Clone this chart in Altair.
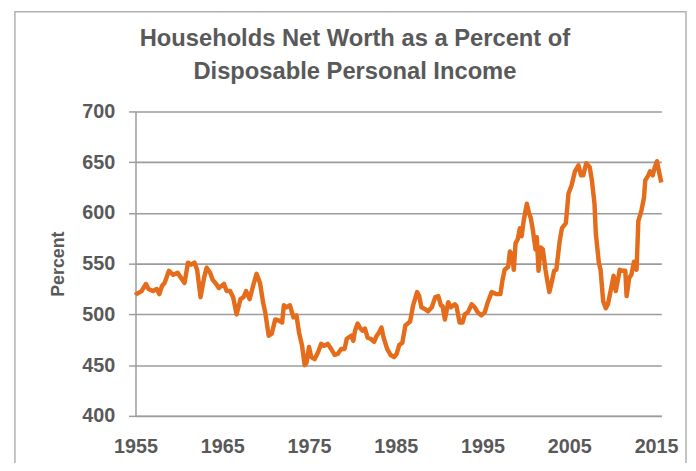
import altair as alt
import pandas as pd

years = [
    1955.0, 1955.1, 1955.7, 1956.2, 1956.5, 1957.0, 1957.45, 1957.75, 1958.05, 1958.35,
    1958.85, 1959.35, 1959.85, 1960.25, 1960.65, 1961.05, 1961.4, 1961.8, 1962.1, 1962.5,
    1962.9, 1963.2, 1963.6, 1963.9, 1964.3, 1964.6, 1965.2, 1965.5, 1965.9, 1966.25,
    1966.65, 1967.1, 1967.45, 1967.75, 1968.15, 1968.55, 1968.95, 1969.35, 1969.7, 1969.95,
    1970.35, 1970.7, 1971.1, 1971.5, 1971.9, 1972.1, 1972.4, 1972.8, 1973.2, 1973.55,
    1973.85, 1974.2, 1974.5, 1974.7, 1975.0, 1975.25, 1975.65, 1976.05, 1976.4, 1976.75,
    1977.15, 1977.55, 1977.95, 1978.3, 1978.7, 1979.1, 1979.35, 1979.85, 1980.1, 1980.3,
    1980.6, 1980.85, 1981.15, 1981.45, 1981.75, 1982.1, 1982.5, 1982.8, 1983.05, 1983.35,
    1983.6, 1984.0, 1984.4, 1984.8, 1985.1, 1985.4, 1985.75, 1986.1, 1986.65, 1987.0,
    1987.45, 1987.7, 1987.95, 1988.4, 1988.7, 1989.15, 1989.55, 1989.9, 1990.2, 1990.4,
    1990.65, 1991.05, 1991.35, 1991.8, 1992.0, 1992.35, 1992.7, 1992.95, 1993.3, 1993.75,
    1994.1, 1994.45, 1994.85, 1995.25, 1995.6, 1996.05, 1996.55, 1997.05, 1997.3, 1997.55,
    1997.95, 1998.15, 1998.4, 1998.6, 1998.8, 1999.05, 1999.3, 1999.5, 1999.75, 2000.1,
    2000.35, 2000.55, 2000.8, 2001.1, 2001.25, 2001.45, 2001.7, 2001.95, 2002.25, 2002.5,
    2002.7, 2002.95, 2003.25, 2003.5, 2003.9, 2004.15, 2004.6, 2004.9, 2005.25, 2005.65,
    2006.05, 2006.35, 2006.6, 2006.95, 2007.35, 2007.6, 2007.9, 2008.05, 2008.4, 2008.6,
    2008.9, 2009.2, 2009.45, 2009.8, 2010.1, 2010.35, 2010.6, 2010.8, 2011.15, 2011.45,
    2011.6, 2011.9, 2012.15, 2012.45, 2012.75, 2012.95, 2013.3, 2013.6, 2013.75, 2014.1,
    2014.3, 2014.6, 2014.85, 2015.1, 2015.3, 2015.6,
]
values = [
    519, 520, 523, 530, 525, 523, 525, 520, 528, 531,
    543, 539, 541, 536, 531, 551, 549, 551, 544, 517,
    536, 546, 541, 534, 530, 526, 530, 523, 523, 517,
    500, 515, 517, 523, 515, 528, 540, 531, 512, 502,
    479, 481, 495, 494, 492, 509, 507, 509, 497, 499,
    482, 469, 450, 452, 468, 458, 456, 463, 471, 469,
    471, 466, 460, 461, 466, 466, 476, 479, 474, 484,
    491, 487, 484, 486, 477, 476, 473, 479, 482, 487,
    477, 466, 460, 458, 461, 470, 472, 489, 493, 509,
    522, 518, 507, 505, 503, 507, 517, 518, 509, 508,
    495, 512, 507, 510, 508, 492, 492, 500, 502, 510,
    507, 502, 499, 502, 512, 522, 520, 520, 534, 544,
    547, 562, 559, 544, 570, 574, 585, 577, 593, 609,
    600, 595, 583, 564, 576, 543, 566, 564, 544, 531,
    522, 531, 543, 544, 573, 585, 590, 619, 627, 641,
    647, 637, 637, 649, 645, 632, 609, 580, 551, 544,
    513, 506, 510, 525, 538, 523, 534, 544, 543, 543,
    518, 536, 539, 552, 544, 592, 602, 615, 632, 637,
    641, 637, 645, 651, 642, 630,
]

x_ticks = [1955, 1965, 1975, 1985, 1995, 2005, 2015]
y_ticks = [400, 450, 500, 550, 600, 650, 700]
title_lines = ["Households Net Worth as a Percent of", "Disposable Personal Income"]

df = pd.DataFrame({"year": years, "value": values})

FONT = "Liberation Sans"
GRAY_TXT = "#595959"
GRID = "#9c9c9c"

line = alt.Chart(df).mark_line(color="#E46C1A", strokeWidth=4.5, strokeJoin="round").encode(
    x=alt.X(
        "year:Q",
        scale=alt.Scale(domain=[1955, 2015.6], nice=False, zero=False),
        axis=alt.Axis(
            values=x_ticks, format="d", grid=False, ticks=False,
            domainColor=GRID, domainWidth=1.5,
            labelFont=FONT, labelFontSize=20, labelFontWeight="bold",
            labelColor=GRAY_TXT, labelPadding=21, labelFlush=False, title=None,
        ),
    ),
    y=alt.Y(
        "value:Q",
        scale=alt.Scale(domain=[400, 700], nice=False, zero=False),
        axis=alt.Axis(
            values=y_ticks, grid=True, gridColor=GRID, gridWidth=1.6,
            tickColor=GRID, tickSize=7, tickWidth=1.5,
            domainColor=GRID, domainWidth=1.5,
            labelFont=FONT, labelFontSize=20, labelFontWeight="bold",
            labelColor=GRAY_TXT, labelPadding=14,
            title="Percent", titleFont=FONT, titleFontSize=18,
            titleFontWeight="bold", titleColor=GRAY_TXT, titlePadding=14,
        ),
    ),
)

frame = alt.Chart(pd.DataFrame({"k": [0]})).mark_rect(
    fill=None, stroke="#b0b0b0", strokeWidth=1.5
).encode(
    x=alt.value(-122), x2=alt.value(557), y=alt.value(-101), y2=alt.value(500)
)

chart = alt.layer(frame, line).properties(
    width=532,
    height=308,
    title=alt.TitleParams(
        text=title_lines, font=FONT, fontSize=24, fontWeight="bold",
        color=GRAY_TXT, anchor="middle", dx=-44, lineHeight=33, offset=18, dy=92,
    ),
    padding={"left": 129, "top": 102, "right": 27, "bottom": 45},
    autosize=alt.AutoSizeParams(type="none"),
).configure_view(stroke=None)

chart.save("out.html", embed_options={"renderer": "svg", "actions": False})
